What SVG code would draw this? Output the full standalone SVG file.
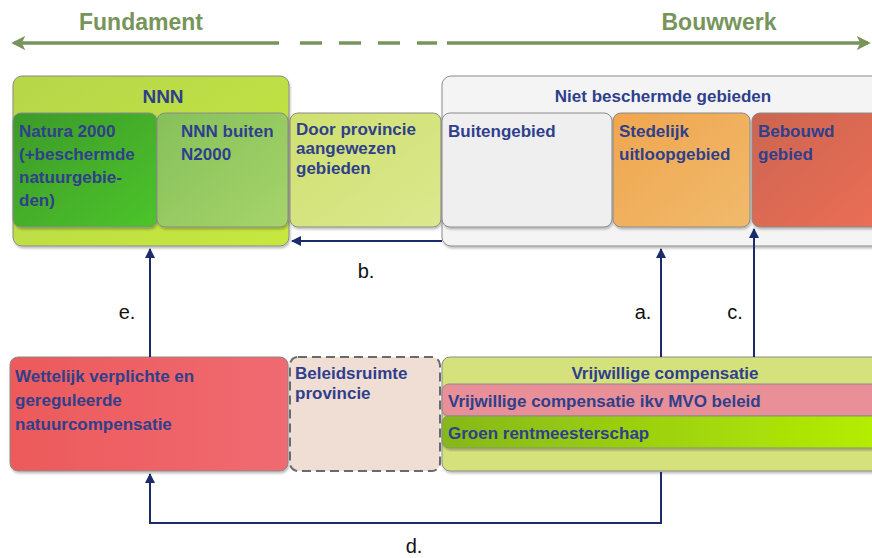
<svg xmlns="http://www.w3.org/2000/svg" width="872" height="558" viewBox="0 0 872 558">
  <defs>
    <style>
      .t { font-family: "Liberation Sans", Arial, sans-serif; font-size: 17px; font-weight: bold; fill: #2f3f8c; }
      .c { text-anchor: middle; }
      .hdr { font-family: "Liberation Sans", Arial, sans-serif; font-size: 23px; font-weight: bold; fill: #77955a; }
      .lbl { font-family: "Liberation Sans", Arial, sans-serif; font-size: 20px; fill: #111; }
      .box { stroke: #8a8a8a; stroke-width: 1; filter: url(#sh); }
      .wire { fill: none; stroke: #1c2b6b; stroke-width: 2; }
      .axis { fill: none; stroke: #77955a; stroke-width: 3.5; }
    </style>
    <filter id="sh" x="-5%" y="-5%" width="110%" height="115%">
      <feDropShadow dx="1" dy="2" stdDeviation="1.2" flood-color="#000" flood-opacity="0.25"/>
    </filter>
    <marker id="ah" viewBox="0 0 10 10" refX="9" refY="5" markerWidth="5" markerHeight="5" orient="auto-start-reverse" markerUnits="strokeWidth">
      <path d="M0,0 L10,5 L0,10 z" fill="#1c2b6b"/>
    </marker>
    <marker id="ga" viewBox="0 0 10 10" refX="8" refY="5" markerWidth="4" markerHeight="4" orient="auto-start-reverse" markerUnits="strokeWidth">
      <path d="M0,0 L10,5 L0,10 L2.5,5 z" fill="#77955a"/>
    </marker>
    <linearGradient id="gNNN" x1="0" y1="0" x2="1" y2="1">
      <stop offset="0" stop-color="#b6d64a"/><stop offset="1" stop-color="#c6e83e"/>
    </linearGradient>
    <linearGradient id="gNat" x1="0" y1="0" x2="1" y2="1">
      <stop offset="0" stop-color="#3d9a2c"/><stop offset="1" stop-color="#4cc42c"/>
    </linearGradient>
    <linearGradient id="gBui" x1="0" y1="0" x2="1" y2="1">
      <stop offset="0" stop-color="#86c05a"/><stop offset="1" stop-color="#a6d46a"/>
    </linearGradient>
    <linearGradient id="gDoor" x1="0" y1="0" x2="1" y2="1">
      <stop offset="0" stop-color="#cfe070"/><stop offset="1" stop-color="#dce88e"/>
    </linearGradient>
    <linearGradient id="gSted" x1="0" y1="0" x2="1" y2="1">
      <stop offset="0" stop-color="#f0a64e"/><stop offset="1" stop-color="#f0ba6c"/>
    </linearGradient>
    <linearGradient id="gBeb" x1="0" y1="0" x2="1" y2="1">
      <stop offset="0" stop-color="#cc6550"/><stop offset="1" stop-color="#ec6e55"/>
    </linearGradient>
    <linearGradient id="gWet" x1="0" y1="0" x2="1" y2="0">
      <stop offset="0" stop-color="#ec5a5a"/><stop offset="1" stop-color="#f06a72"/>
    </linearGradient>
    <linearGradient id="gGroen" x1="0" y1="0" x2="1" y2="0">
      <stop offset="0" stop-color="#86b81a"/><stop offset="1" stop-color="#b6ee00"/>
    </linearGradient>
  </defs>

  <rect width="872" height="558" fill="#ffffff"/>

  <!-- Axis: Fundament to Bouwwerk -->
  <g id="axis">
    <line class="axis" x1="14" y1="43" x2="279" y2="43" marker-start="url(#ga)"/>
    <line class="axis" x1="300" y1="43" x2="437" y2="43" stroke-dasharray="22 17"/>
    <line class="axis" x1="447" y1="43" x2="868" y2="43" marker-end="url(#ga)"/>
    <text class="hdr c" x="141" y="30">Fundament</text>
    <text class="hdr c" x="719" y="30">Bouwwerk</text>
  </g>

  <!-- Top row -->
  <g id="nnn">
    <rect class="box" x="13" y="76" width="276" height="170" rx="9" fill="url(#gNNN)"/>
    <text class="t c" x="163" y="103" style="font-size:19px">NNN</text>
  </g>
  <g id="natura2000">
    <rect class="box" x="13" y="113" width="144" height="114" rx="8" fill="url(#gNat)"/>
    <text class="t" x="19" y="137">Natura 2000</text>
    <text class="t" x="19" y="160">(+beschermde</text>
    <text class="t" x="19" y="183">natuurgebie-</text>
    <text class="t" x="19" y="206">den)</text>
  </g>
  <g id="nnn-buiten">
    <rect class="box" x="157" y="113" width="131" height="114" rx="8" fill="url(#gBui)"/>
    <text class="t" x="181" y="137">NNN buiten</text>
    <text class="t" x="181" y="160">N2000</text>
  </g>
  <g id="door-provincie">
    <rect class="box" x="290" y="113" width="151" height="114" rx="8" fill="url(#gDoor)"/>
    <text class="t" x="296" y="135">Door provincie</text>
    <text class="t" x="296" y="154">aangewezen</text>
    <text class="t" x="296" y="174">gebieden</text>
  </g>
  <g id="niet-beschermd">
    <rect class="box" x="442" y="76" width="440" height="170" rx="9" fill="#f4f4f4"/>
    <text class="t c" x="663" y="102">Niet beschermde gebieden</text>
  </g>
  <g id="buitengebied">
    <rect class="box" x="442" y="113" width="170" height="114" rx="8" fill="#efefef"/>
    <text class="t" x="448" y="137">Buitengebied</text>
  </g>
  <g id="stedelijk">
    <rect class="box" x="613" y="113" width="137" height="114" rx="8" fill="url(#gSted)"/>
    <text class="t" x="619" y="137">Stedelijk</text>
    <text class="t" x="619" y="160">uitloopgebied</text>
  </g>
  <g id="bebouwd">
    <rect class="box" x="752" y="113" width="130" height="114" rx="8" fill="url(#gBeb)"/>
    <text class="t" x="758" y="137">Bebouwd</text>
    <text class="t" x="758" y="160">gebied</text>
  </g>

  <!-- Bottom row -->
  <g id="wettelijk">
    <rect class="box" x="10" y="357" width="278" height="114" rx="8" fill="url(#gWet)"/>
    <text class="t" x="15" y="382">Wettelijk verplichte en</text>
    <text class="t" x="15" y="406">gereguleerde</text>
    <text class="t" x="15" y="430">natuurcompensatie</text>
  </g>
  <g id="beleidsruimte">
    <rect x="290" y="357" width="150" height="114" rx="8" fill="#f0ddd4" stroke="#6a6a6a" stroke-width="2" stroke-dasharray="9 5"/>
    <text class="t" x="295" y="379">Beleidsruimte</text>
    <text class="t" x="295" y="399">provincie</text>
  </g>
  <g id="vrijwillig">
    <rect class="box" x="442" y="357" width="440" height="114" rx="8" fill="#d5e27c"/>
    <text class="t c" x="665" y="379">Vrijwillige compensatie</text>
  </g>
  <g id="mvo">
    <rect class="box" x="442" y="384" width="440" height="32" rx="7" fill="#e88f98"/>
    <text class="t" x="448" y="407">Vrijwillige compensatie ikv MVO beleid</text>
  </g>
  <g id="groen">
    <rect class="box" x="442" y="416" width="440" height="32" rx="7" fill="url(#gGroen)"/>
    <text class="t" x="448" y="439">Groen rentmeesterschap</text>
  </g>

  <!-- Connectors -->
  <g id="connectors">
    <line class="wire" x1="442" y1="241" x2="292" y2="241" marker-end="url(#ah)"/>
    <line class="wire" x1="150" y1="357" x2="150" y2="249" marker-end="url(#ah)"/>
    <line class="wire" x1="661" y1="357" x2="661" y2="249" marker-end="url(#ah)"/>
    <line class="wire" x1="754" y1="357" x2="754" y2="229" marker-end="url(#ah)"/>
    <polyline class="wire" points="661,472 661,523 150,523 150,474" marker-end="url(#ah)"/>
  </g>

  <g id="labels">
    <text class="lbl c" x="366" y="278">b.</text>
    <text class="lbl c" x="127" y="319">e.</text>
    <text class="lbl c" x="643" y="319">a.</text>
    <text class="lbl c" x="735" y="319">c.</text>
    <text class="lbl c" x="414" y="553">d.</text>
  </g>
</svg>
